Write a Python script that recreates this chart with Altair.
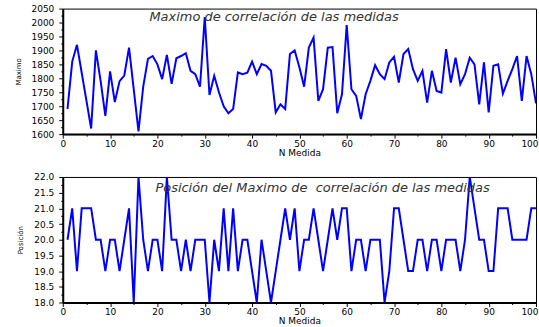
import altair as alt
import pandas as pd

# ---------------- data ----------------
medida = list(range(1, 101))

maximo = [1690, 1860, 1920, 1820, 1720, 1620, 1900, 1790, 1665, 1825,
          1715, 1790, 1810, 1910, 1760, 1610, 1770, 1870, 1880, 1850,
          1797, 1884, 1780, 1872, 1880, 1890, 1827, 1815, 1770, 2020,
          1740, 1809, 1750, 1700, 1675, 1690, 1821, 1815, 1820, 1860,
          1815, 1851, 1845, 1827, 1678, 1707, 1690, 1887, 1900, 1840,
          1770, 1910, 1946, 1719, 1761, 1910, 1912, 1675, 1743, 1991,
          1761, 1737, 1654, 1743, 1791, 1847, 1815, 1797, 1857, 1877,
          1785, 1887, 1905, 1833, 1791, 1827, 1713, 1827, 1755, 1749,
          1905, 1785, 1874, 1779, 1815, 1874, 1850, 1707, 1857, 1678,
          1845, 1850, 1745, 1791, 1833, 1880, 1719, 1880, 1815, 1710]

posicion = [20, 21, 19, 21, 21, 21, 20, 20, 19, 20,
            20, 19, 20, 21, 18, 22, 20, 19, 20, 20,
            19, 22, 20, 20, 19, 20, 19, 20, 20, 20,
            18, 20, 19, 21, 19, 21, 19, 20, 20, 19,
            18, 20, 19, 18, 19, 20, 21, 20, 21, 19,
            20, 20, 21, 20, 19, 20, 21, 20, 21, 21,
            19, 20, 20, 19, 20, 20, 20, 18, 19, 21,
            21, 20, 19, 19, 20, 20, 19, 20, 20, 19,
            20, 20, 20, 19, 20, 22, 21, 20, 20, 19,
            19, 21, 21, 21, 20, 20, 20, 20, 21, 21]

x_ticks = list(range(0, 101, 5))
y_ticks_top = list(range(1600, 2051, 25))
y_ticks_bottom = [18 + 0.25 * i for i in range(17)]

title_top = ["Maximo de correlación de las medidas"]
title_bottom = ["Posición del Maximo de \u00a0correlación de las medidas"]
x_title = "N Medida"
y_title_top = "Maximo"
y_title_bottom = "Posición"

df = pd.DataFrame({"medida": medida, "maximo": maximo, "posicion": posicion})

FONT = "DejaVu Sans"
W, H = 475, 126


def panel(field, ytitle, ydomain, yticks, major_test, label_expr, title_text, tx, ty):
    line = alt.Chart(df).mark_line(color="#0000ff", strokeWidth=2, clip=True).encode(
        x=alt.X("medida:Q",
                scale=alt.Scale(domain=[0, 100], nice=False),
                axis=alt.Axis(values=x_ticks,
                              labelExpr="datum.value % 10 === 0 ? datum.label : ''",
                              tickSize={"condition": {"test": "datum.value % 10 === 0", "value": 4}, "value": 2},
                              labelFlush=False,
                              labelAlign={"condition": {"test": "datum.value === 100", "value": "right"},
                                          "value": "center"},
                              labelOffset={"condition": {"test": "datum.value === 100", "value": 2},
                                           "value": 0},
                              title=x_title, titlePadding=0, labelPadding=1)),
        y=alt.Y(f"{field}:Q",
                scale=alt.Scale(domain=ydomain, nice=False, zero=False),
                axis=alt.Axis(values=yticks, labelExpr=label_expr,
                              tickSize={"condition": {"test": major_test, "value": 4}, "value": 2},
                              labelFlush=False,
                              title=ytitle, titleFontSize=7, titlePadding=10, labelPadding=5)),
    )
    txt = alt.Chart(pd.DataFrame({"t": title_text})).mark_text(
        align="left", baseline="middle", font=FONT, fontSize=13,
        fontStyle="italic", color="#333333"
    ).encode(x=alt.value(tx), y=alt.value(ty), text="t:N")
    return alt.layer(line, txt).properties(width=W, height=H)


top = panel("maximo", y_title_top, [1600, 2050], y_ticks_top,
            "datum.value % 50 === 0",
            "datum.value % 50 === 0 ? format(datum.value, 'd') : ''",
            title_top, 87, 8)
bottom = panel("posicion", y_title_bottom, [18, 22], y_ticks_bottom,
               "datum.value % 0.5 === 0",
               "datum.value % 0.5 === 0 ? format(datum.value, '.1f') : ''",
               title_bottom, 93, 11)

chart = alt.vconcat(top, bottom, spacing=14).properties(
    padding={"left": 13, "top": 3, "right": 0, "bottom": 5},
    background="white",
).configure_view(
    stroke="black", strokeWidth=1
).configure_axis(
    grid=False,
    domainColor="black", domainWidth=2,
    tickColor="black", tickWidth=1,
    labelFont=FONT, labelFontSize=9, labelColor="black",
    titleFont=FONT, titleFontSize=9, titleFontWeight="normal", titleColor="black",
)

chart.save("out.html", embed_options={"renderer": "svg", "actions": False})
